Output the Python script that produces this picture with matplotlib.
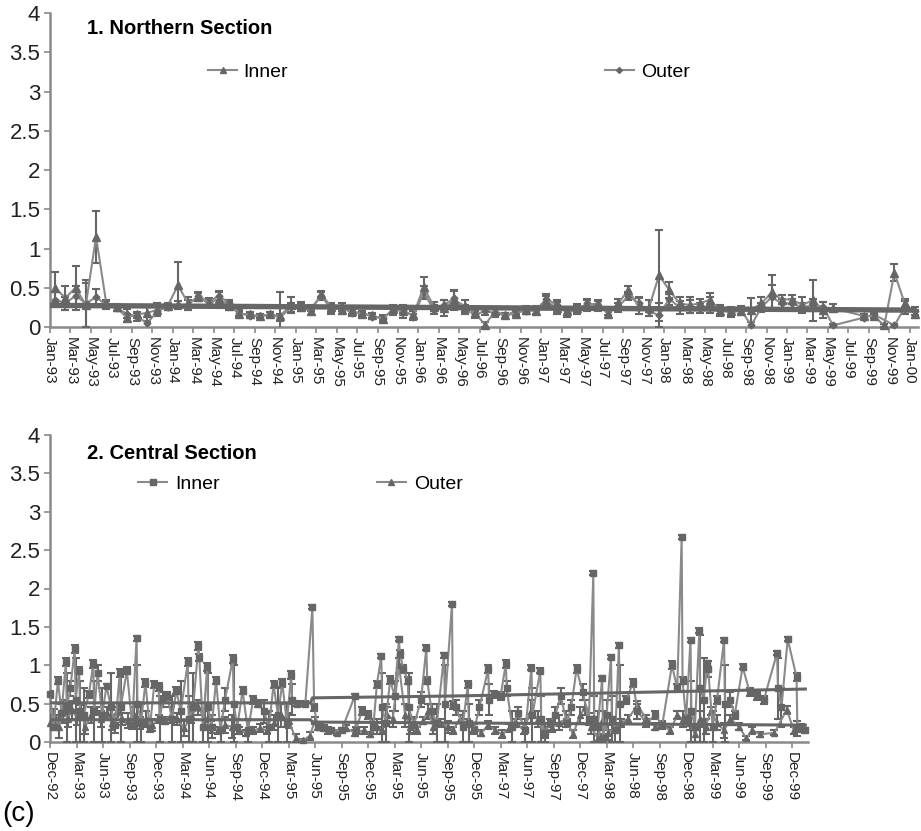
import numpy as np
import matplotlib.pyplot as plt
from matplotlib.lines import Line2D

plt.rcParams['font.family'] = ['Liberation Sans', 'DejaVu Sans']

GREY = '#666666'
LGREY = '#8a8a8a'
AXC = '#8a8a8a'

# ---- panel 1: Northern Section (monthly, Jan-93 .. Jan-00)
n_labels = ['Jan-93', 'Mar-93', 'May-93', 'Jul-93', 'Sep-93', 'Nov-93',
            'Jan-94', 'Mar-94', 'May-94', 'Jul-94', 'Sep-94', 'Nov-94',
            'Jan-95', 'Mar-95', 'May-95', 'Jul-95', 'Sep-95', 'Nov-95',
            'Jan-96', 'Mar-96', 'May-96', 'Jul-96', 'Sep-96', 'Nov-96',
            'Jan-97', 'Mar-97', 'May-97', 'Jul-97', 'Sep-97', 'Nov-97',
            'Jan-98', 'Mar-98', 'May-98', 'Jul-98', 'Sep-98', 'Nov-98',
            'Jan-99', 'Mar-99', 'May-99', 'Jul-99', 'Sep-99', 'Nov-99', 'Jan-00']

nan = np.nan
n_inner = [0.50, 0.37, 0.50, 0.28, 1.15, 0.30, 0.25, 0.12, 0.16, 0.18,
           0.22, 0.27, 0.53, 0.30, 0.38, 0.30, 0.36, 0.27, 0.17, 0.16,
           0.14, 0.16, 0.14, 0.28, 0.25, 0.20, 0.42, 0.25, 0.22, 0.21,
           0.16, 0.15, 0.10, 0.23, 0.20, 0.15, 0.51, 0.26, 0.24, 0.34,
           0.27, 0.18, 0.03, 0.20, 0.15, 0.17, 0.22, 0.20, 0.33, 0.24,
           0.20, 0.24, 0.28, 0.30, 0.17, 0.30, 0.47, 0.27, 0.24, 0.66,
           0.47, 0.30, 0.28, 0.30, 0.35, 0.20, 0.20, 0.20, 0.22, 0.30,
           0.44, 0.35, 0.35, 0.28, 0.34, 0.22, 0.24, nan, nan, 0.14,
           0.14, 0.02, 0.69, 0.30, 0.17]
n_inner_err = [0.20, 0.15, 0.28, 0.28, 0.33, 0.05, 0.04, 0.05, 0.03, 0.10,
               0.08, 0.04, 0.30, 0.08, 0.05, 0.04, 0.08, 0.05, 0.04, 0.03,
               0.02, 0.03, 0.30, 0.10, 0.05, 0.05, 0.04, 0.06, 0.05, 0.05,
               0.03, 0.03, 0.04, 0.05, 0.08, 0.05, 0.13, 0.06, 0.10, 0.12,
               0.08, 0.05, 0.03, 0.05, 0.03, 0.03, 0.05, 0.04, 0.06, 0.08,
               0.06, 0.05, 0.07, 0.05, 0.05, 0.06, 0.05, 0.10, 0.10, 0.58,
               0.10, 0.08, 0.10, 0.06, 0.08, 0.06, 0.05, 0.04, 0.15, 0.08,
               0.22, 0.06, 0.06, 0.10, 0.26, 0.10, 0.05, nan, nan, 0.02,
               0.02, 0.02, 0.11, 0.06, 0.05]
n_outer = [0.35, 0.30, 0.40, 0.30, 0.38, 0.28, 0.24, 0.17, 0.13, 0.05,
           0.20, 0.26, 0.28, 0.28, 0.40, 0.32, 0.40, 0.30, 0.18, 0.14,
           0.14, 0.16, 0.12, 0.25, 0.27, 0.24, 0.40, 0.22, 0.25, 0.18,
           0.18, 0.13, 0.12, 0.20, 0.22, 0.13, 0.44, 0.22, 0.28, 0.37,
           0.22, 0.16, 0.20, 0.18, 0.15, 0.20, 0.20, 0.22, 0.36, 0.28,
           0.18, 0.22, 0.30, 0.27, 0.20, 0.25, 0.40, 0.30, 0.20, 0.15,
           0.36, 0.25, 0.26, 0.24, 0.28, 0.22, 0.18, 0.22, 0.02, 0.25,
           0.38, 0.30, 0.30, 0.25, 0.28, 0.26, 0.02, nan, nan, 0.12,
           0.16, nan, 0.02, 0.25, 0.20]
n_outer_err = [0.10, 0.08, 0.12, 0.30, 0.10, 0.05, 0.04, 0.06, 0.05, 0.20,
               0.06, 0.04, 0.05, 0.06, 0.05, 0.05, 0.06, 0.05, 0.04, 0.03,
               0.02, 0.03, 0.04, 0.06, 0.05, 0.04, 0.05, 0.06, 0.05, 0.04,
               0.03, 0.03, 0.03, 0.05, 0.04, 0.04, 0.08, 0.06, 0.06, 0.10,
               0.06, 0.04, 0.05, 0.05, 0.03, 0.04, 0.04, 0.05, 0.06, 0.06,
               0.05, 0.05, 0.06, 0.06, 0.05, 0.06, 0.05, 0.08, 0.06, 0.15,
               0.08, 0.08, 0.08, 0.06, 0.10, 0.06, 0.05, 0.05, 0.05, 0.06,
               0.15, 0.06, 0.06, 0.06, 0.08, 0.06, 0.02, nan, nan, 0.02,
               0.02, nan, 0.02, 0.08, 0.05]
n_trend_x = [0, 84.5]
n_trend_inner = [0.29, 0.23]
n_trend_outer = [0.26, 0.20]

# ---- panel 2: Central Section (months since Dec-92)
c_labels = ['Dec-92', 'Mar-93', 'Jun-93', 'Sep-93', 'Dec-93', 'Mar-94',
            'Jun-94', 'Sep-94', 'Dec-94', 'Mar-95', 'Jun-95', 'Sep-95',
            'Dec-95', 'Mar-95', 'Jun-95', 'Sep-95', 'Dec-95', 'Mar-97',
            'Jun-97', 'Sep-97', 'Dec-97', 'Mar-98', 'Jun-98', 'Sep-98',
            'Dec-98', 'Mar-99', 'Jun-99', 'Sep-99', 'Dec-99']

c_inner_m = [0.0, 0.4, 0.9, 1.3, 1.8, 1.9, 2.3, 2.8, 2.9, 3.3,
             3.4, 3.8, 4.4, 4.9, 5.0, 5.4, 5.9, 6.4, 6.9, 7.4,
             7.9, 8.0, 8.7, 9.3, 9.8, 9.9, 10.3, 10.8, 11.3, 11.8,
             12.3, 12.4, 12.8, 13.3, 13.8, 14.3, 14.8, 15.6, 15.7, 16.2,
             16.8, 16.9, 17.3, 17.8, 17.9, 18.3, 18.8, 19.3, 19.8, 20.7,
             20.8, 21.2, 21.8, 22.4, 23.0, 23.6, 24.2, 24.8, 25.3, 25.8,
             26.3, 26.8, 27.3, 27.4, 28.0, 28.9, 29.7, 29.9, 30.3, 31.0,
             31.8, 33.0, 34.5, 34.6, 35.3, 36.0, 36.6, 37.0, 37.5, 37.6,
             38.0, 38.5, 39.0, 39.5, 39.6, 40.0, 40.5, 40.6, 41.2, 42.0,
             42.6, 42.7, 43.2, 43.8, 44.6, 44.7, 45.5, 45.6, 46.0, 46.7,
             47.3, 47.4, 48.0, 48.6, 49.6, 49.7, 50.3, 51.0, 51.6, 51.7,
             52.3, 53.0, 53.8, 54.5, 54.6, 55.5, 55.6, 56.0, 56.6, 57.2,
             57.8, 58.5, 59.0, 59.6, 60.3, 61.0, 61.5, 61.6, 62.0, 62.5,
             62.6, 63.0, 63.5, 63.6, 64.0, 64.4, 64.5, 65.2, 66.0, 66.5,
             67.5, 68.5, 69.3, 70.4, 71.0, 71.5, 71.6, 72.0, 72.5, 72.6,
             73.0, 73.5, 73.6, 74.0, 74.4, 74.5, 75.0, 75.5, 76.3, 76.4,
             77.0, 77.5, 78.4, 79.2, 80.0, 80.8, 82.3, 82.4, 82.8, 83.5,
             84.5, 84.6, 85.0, 85.5]
c_inner = [0.62, 0.20, 0.80, 0.38, 1.04, 0.45, 0.70, 1.21, 0.55, 0.93,
           0.40, 0.35, 0.62, 1.02, 0.40, 0.90, 0.35, 0.73, 0.45, 0.22,
           0.90, 0.45, 0.93, 0.22, 1.35, 0.50, 0.25, 0.77, 0.18, 0.75,
           0.72, 0.30, 0.55, 0.60, 0.30, 0.67, 0.40, 1.04, 0.30, 0.45,
           1.25, 1.10, 0.20, 0.98, 0.45, 0.20, 0.80, 0.15, 0.55, 1.08,
           0.50, 0.20, 0.67, 0.15, 0.55, 0.50, 0.40, 0.20, 0.75, 0.35,
           0.77, 0.25, 0.87, 0.55, 0.50, 0.50, 1.76, 0.45, 0.20, 0.18,
           0.15, 0.15, 0.60, 0.15, 0.40, 0.35, 0.20, 0.75, 1.12, 0.45,
           0.25, 0.81, 0.60, 1.34, 1.15, 0.95, 0.80, 0.45, 0.22, 0.55,
           1.23, 0.80, 0.40, 0.25, 1.13, 0.50, 1.80, 0.48, 0.45, 0.20,
           0.75, 0.25, 0.15, 0.45, 0.95, 0.55, 0.62, 0.60, 1.02, 0.70,
           0.20, 0.38, 0.15, 0.97, 0.35, 0.93, 0.30, 0.12, 0.25, 0.35,
           0.60, 0.25, 0.45, 0.95, 0.65, 0.30, 2.20, 0.30, 0.20, 0.83,
           0.05, 0.35, 1.11, 0.30, 0.15, 1.26, 0.50, 0.55, 0.77, 0.40,
           0.25, 0.35, 0.22, 1.00, 0.70, 2.67, 0.80, 0.30, 1.33, 0.40,
           0.20, 1.45, 0.70, 0.55, 1.03, 0.95, 0.20, 0.55, 1.33, 0.50,
           0.55, 0.35, 0.98, 0.65, 0.60, 0.55, 1.16, 0.70, 0.45, 1.34,
           0.85, 0.18, 0.18, 0.15]
c_inner_err = [0.05, 0.05, 0.05, 0.12, 0.05, 0.45, 0.10, 0.05, 0.55, 0.05,
               0.40, 0.35, 0.05, 0.05, 0.40, 0.10, 0.35, 0.03, 0.45, 0.10,
               0.05, 0.45, 0.05, 0.05, 0.03, 0.50, 0.25, 0.05, 0.05, 0.05,
               0.05, 0.30, 0.10, 0.05, 0.30, 0.05, 0.40, 0.05, 0.30, 0.45,
               0.05, 0.05, 0.20, 0.05, 0.45, 0.15, 0.05, 0.15, 0.15, 0.05,
               0.50, 0.10, 0.05, 0.15, 0.05, 0.05, 0.15, 0.20, 0.05, 0.35,
               0.05, 0.25, 0.05, 0.20, 0.03, 0.03, 0.03, 0.05, 0.05, 0.04,
               0.03, 0.03, 0.03, 0.05, 0.05, 0.05, 0.10, 0.05, 0.03, 0.45,
               0.25, 0.05, 0.20, 0.03, 0.05, 0.05, 0.05, 0.45, 0.10, 0.10,
               0.03, 0.05, 0.10, 0.25, 0.03, 0.50, 0.03, 0.05, 0.10, 0.20,
               0.05, 0.25, 0.05, 0.10, 0.05, 0.20, 0.05, 0.05, 0.05, 0.10,
               0.20, 0.08, 0.15, 0.03, 0.35, 0.03, 0.30, 0.12, 0.05, 0.10,
               0.10, 0.05, 0.10, 0.05, 0.10, 0.08, 0.03, 0.30, 0.20, 0.03,
               0.05, 0.20, 0.03, 0.30, 0.15, 0.03, 0.50, 0.05, 0.05, 0.10,
               0.05, 0.05, 0.03, 0.05, 0.05, 0.03, 0.05, 0.05, 0.03, 0.40,
               0.20, 0.03, 0.70, 0.55, 0.03, 0.10, 0.20, 0.05, 0.03, 0.50,
               0.10, 0.05, 0.03, 0.05, 0.05, 0.05, 0.03, 0.40, 0.25, 0.03,
               0.05, 0.10, 0.05, 0.03]

c_outer_m = [0.0, 0.5, 1.0, 1.5, 2.0, 2.5, 3.0, 3.5, 4.0, 4.6,
             5.2, 5.8, 6.4, 7.0, 7.6, 8.2, 8.8, 9.5, 10.2, 10.9,
             11.6, 12.3, 13.0, 13.7, 14.4, 15.2, 16.0, 16.8, 17.5, 18.2,
             19.0, 19.8, 20.6, 21.4, 22.2, 23.0, 23.8, 24.6, 25.4, 26.2,
             27.0, 27.8, 28.6, 29.4, 30.0, 30.6, 31.5, 32.5, 33.5, 34.5,
             35.5, 36.2, 37.0, 37.6, 38.2, 38.8, 39.5, 40.2, 40.8, 41.5,
             42.2, 42.8, 43.4, 44.2, 45.0, 45.6, 46.4, 47.2, 48.0, 48.8,
             49.6, 50.4, 51.2, 52.0, 52.8, 53.6, 54.4, 55.2, 56.0, 56.8,
             57.6, 58.4, 59.2, 60.0, 60.6, 61.2, 62.0, 62.6, 63.2, 64.0,
             64.6, 65.4, 66.5, 67.5, 68.5, 69.3, 70.2, 71.0, 71.6, 72.4,
             73.0, 73.6, 74.2, 74.8, 75.5, 76.3, 77.0, 78.0, 78.8, 79.5,
             80.4, 82.0, 83.4, 84.2, 85.0]
c_outer = [0.25, 0.35, 0.20, 0.40, 0.30, 0.42, 0.32, 0.40, 0.20, 0.35,
           0.40, 0.30, 0.38, 0.25, 0.40, 0.30, 0.28, 0.35, 0.25, 0.30,
           0.22, 0.30, 0.28, 0.35, 0.30, 0.18, 0.35, 0.45, 0.30, 0.20,
           0.15, 0.22, 0.20, 0.15, 0.12, 0.15, 0.18, 0.15, 0.25, 0.35,
           0.28, 0.05, 0.02, 0.08, 0.28, 0.20, 0.15, 0.12, 0.18, 0.12,
           0.15, 0.10, 0.20, 0.15, 0.35, 0.30, 1.00, 0.35, 0.20, 0.15,
           0.28, 0.40, 0.20, 0.25, 0.20, 0.15, 0.30, 0.25, 0.18, 0.12,
           0.22, 0.15, 0.10, 0.18, 0.25, 0.15, 0.40, 0.30, 0.10, 0.18,
           0.25, 0.30, 0.10, 0.35, 0.45, 0.20, 0.05, 0.30, 0.12, 0.20,
           0.25, 0.30, 0.48, 0.30, 0.20, 0.22, 0.15, 0.35, 0.30, 0.25,
           0.10, 0.30, 0.20, 0.40, 0.25, 0.15, 0.30, 0.20, 0.05, 0.15,
           0.10, 0.12, 0.42, 0.15, 0.18]
c_outer_err = [0.10, 0.08, 0.15, 0.15, 0.10, 0.12, 0.10, 0.08, 0.10, 0.10,
               0.05, 0.10, 0.08, 0.10, 0.05, 0.08, 0.10, 0.10, 0.08, 0.10,
               0.08, 0.05, 0.05, 0.10, 0.08, 0.10, 0.10, 0.10, 0.10, 0.08,
               0.05, 0.10, 0.15, 0.05, 0.04, 0.05, 0.05, 0.05, 0.10, 0.15,
               0.10, 0.05, 0.02, 0.05, 0.05, 0.05, 0.04, 0.03, 0.04, 0.04,
               0.04, 0.03, 0.10, 0.05, 0.10, 0.10, 0.10, 0.15, 0.10, 0.05,
               0.05, 0.10, 0.10, 0.05, 0.08, 0.05, 0.05, 0.05, 0.05, 0.04,
               0.05, 0.05, 0.05, 0.05, 0.05, 0.05, 0.15, 0.10, 0.05, 0.05,
               0.10, 0.10, 0.05, 0.10, 0.10, 0.10, 0.05, 0.10, 0.10, 0.05,
               0.05, 0.05, 0.05, 0.05, 0.05, 0.05, 0.05, 0.05, 0.10, 0.10,
               0.10, 0.10, 0.10, 0.05, 0.10, 0.10, 0.05, 0.05, 0.03, 0.05,
               0.03, 0.03, 0.05, 0.05, 0.03]
c_trend_x = [0, 29.5, 29.7, 46.0, 85.5]
c_trend_inner = [0.51, 0.51, 0.575, 0.60, 0.69]
c_trend_outer_x = [0, 29.5, 29.7, 85.5]
c_trend_outer = [0.29, 0.29, 0.26, 0.22]

y_ticks = [0, 0.5, 1, 1.5, 2, 2.5, 3, 3.5, 4]
y_labels = ['0', '0.5', '1', '1.5', '2', '2.5', '3', '3.5', '4']


def style_axes(ax):
    for s in ['top', 'right']:
        ax.spines[s].set_visible(False)
    for s in ['left', 'bottom']:
        ax.spines[s].set_color(AXC)
        ax.spines[s].set_linewidth(1.8)
    ax.set_ylim(0, 4)
    ax.set_yticks(y_ticks)
    ax.set_yticklabels(y_labels, fontsize=16, color='#222222')
    ax.tick_params(axis='y', length=4, width=1.2, color=AXC, pad=3)
    ax.tick_params(axis='x', length=4, width=1.2, color=AXC, pad=3,
                   labelsize=11, labelcolor='#222222')


def draw_series(ax, x, y, err, marker, ms):
    x = np.asarray(x, float)
    y = np.asarray(y, float)
    err = np.asarray(err, float)
    ok = ~np.isnan(y)
    ax.errorbar(x[ok], y[ok], yerr=err[ok], fmt='none', ecolor=GREY,
                elinewidth=1.5, capsize=3, capthick=1.5, zorder=3)
    ax.plot(x[ok], y[ok], color=LGREY, lw=1.5, marker=marker, ms=ms,
            mfc=GREY, mec=GREY, zorder=4, clip_on=False)


fig = plt.figure(figsize=(9.21, 8.31), dpi=100)

# top panel
ax1 = fig.add_axes([50 / 921, 1 - 327 / 831, 868 / 921, 314 / 831])
style_axes(ax1)
n_x = np.arange(len(n_inner)) + 0.5
draw_series(ax1, n_x, n_outer, n_outer_err, 'D', 3.5)
draw_series(ax1, n_x, n_inner, n_inner_err, '^', 5.5)
ax1.plot(n_trend_x, n_trend_inner, color=GREY, lw=2.2, zorder=5)
ax1.plot(n_trend_x, n_trend_outer, color=GREY, lw=2.2, zorder=5)
ax1.set_xlim(0, 84.8)
ax1.set_xticks(np.arange(len(n_labels)) * 2)
ax1.set_xticklabels(n_labels, rotation=270)
ax1.text(0.043, 0.95, '1. Northern Section', transform=ax1.transAxes,
         fontsize=14.5, fontweight='bold', va='center', ha='left')
h_in = Line2D([], [], color=LGREY, lw=1.5, marker='^', ms=5, mfc=GREY, mec=GREY)
h_out = Line2D([], [], color=LGREY, lw=1.5, marker='D', ms=3, mfc=GREY, mec=GREY)
lg = ax1.legend([h_in], ['Inner'], loc='center left', bbox_to_anchor=(0.182, 0.812),
                frameon=False, fontsize=14, handlelength=1.5, handletextpad=0.3,
                borderpad=0, borderaxespad=0)
ax1.add_artist(lg)
ax1.legend([h_out], ['Outer'], loc='center left', bbox_to_anchor=(0.639, 0.812),
           frameon=False, fontsize=14, handlelength=1.5, handletextpad=0.4,
           borderpad=0, borderaxespad=0)

# bottom panel
ax2 = fig.add_axes([50 / 921, 1 - 742 / 831, 758 / 921, 307 / 831])
style_axes(ax2)
draw_series(ax2, c_outer_m, c_outer, c_outer_err, '^', 4.5)
draw_series(ax2, c_inner_m, c_inner, c_inner_err, 's', 5)
ax2.plot(c_trend_x, c_trend_inner, color=GREY, lw=2.2, zorder=5)
ax2.plot(c_trend_outer_x, c_trend_outer, color=GREY, lw=2.2, zorder=5)
ax2.set_xlim(0, 85.8)
ax2.set_xticks(np.arange(len(c_labels)) * 3)
ax2.set_xticklabels(c_labels, rotation=270)
ax2.text(0.049, 0.94, '2. Central Section', transform=ax2.transAxes,
         fontsize=14.5, fontweight='bold', va='center', ha='left')
h_in2 = Line2D([], [], color=LGREY, lw=1.5, marker='s', ms=5, mfc=GREY, mec=GREY)
h_out2 = Line2D([], [], color=LGREY, lw=1.5, marker='^', ms=4, mfc=GREY, mec=GREY)
lg2 = ax2.legend([h_in2], ['Inner'], loc='center left', bbox_to_anchor=(0.116, 0.84),
                 frameon=False, fontsize=14, handlelength=1.5, handletextpad=0.4,
                 borderpad=0, borderaxespad=0)
ax2.add_artist(lg2)
ax2.legend([h_out2], ['Outer'], loc='center left', bbox_to_anchor=(0.431, 0.84),
           frameon=False, fontsize=14, handlelength=1.5, handletextpad=0.4,
           borderpad=0, borderaxespad=0)

fig.text(2 / 921, 1 - 814 / 831, '(c)', fontsize=20, va='center', ha='left')

fig.savefig('out.png', dpi=100)
